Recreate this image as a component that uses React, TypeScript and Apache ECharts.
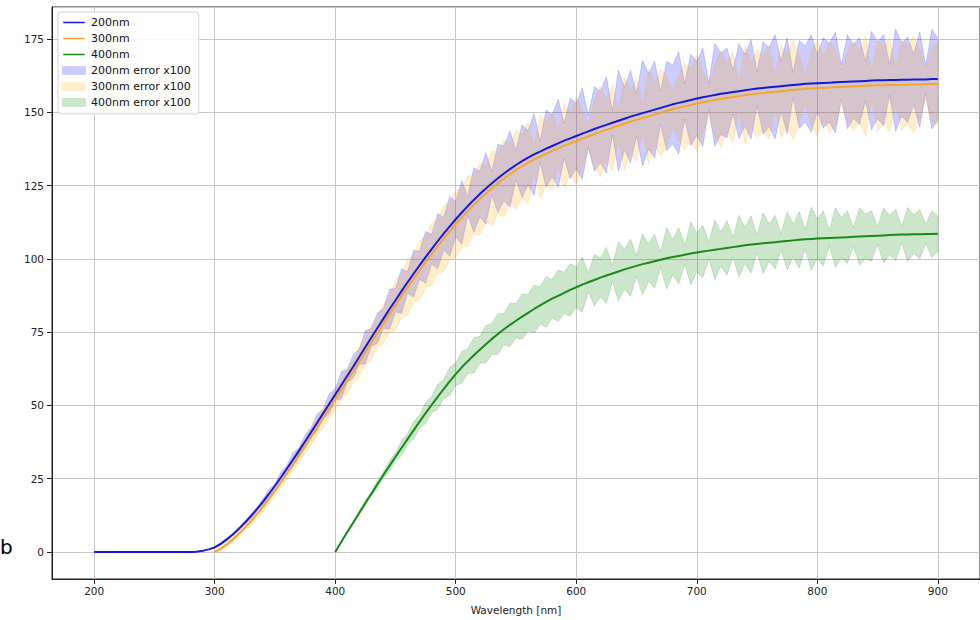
import React, { useEffect, useRef } from "react";
import * as echarts from "echarts";

// ---- sampling grid (nm) ----
const STEP = 5;
const start200 = 200;
const start300 = 300;
const start400 = 400;

// ---- mean curves (5 nm steps) ----
const curve200nm = [
  0, 0, 0, 0, 0, 0, 0, 0, 0, 0,
  0, 0, 0, 0, 0, 0, 0, 0.1, 0.4, 0.9,
  1.6, 2.8, 4.3, 6.0, 7.9, 10.0, 12.2, 14.6, 17.1, 19.8,
  22.6, 25.5, 28.5, 31.5, 34.6, 37.7, 40.9, 44.1, 47.3, 50.5,
  53.7, 56.9, 60.1, 63.3, 66.6, 69.9, 73.2, 76.4, 79.6, 82.8,
  85.9, 89.0, 92.0, 94.9, 97.8, 100.6, 103.3, 106.0, 108.6, 111.1,
  113.5, 115.8, 118.0, 120.1, 122.1, 124.0, 125.8, 127.5, 129.1, 130.6,
  132.0, 133.3, 134.5, 135.6, 136.6, 137.6, 138.5, 139.4, 140.3, 141.1,
  141.9, 142.7, 143.5, 144.3, 145.0, 145.7, 146.4, 147.1, 147.8, 148.5,
  149.1, 149.7, 150.3, 150.9, 151.5, 152.1, 152.7, 153.2, 153.7, 154.2,
  154.7, 155.1, 155.5, 155.9, 156.3, 156.6, 156.9, 157.2, 157.5, 157.8,
  158.1, 158.3, 158.5, 158.7, 158.9, 159.1, 159.3, 159.5, 159.7, 159.8,
  159.9, 160.0, 160.1, 160.2, 160.3, 160.4, 160.5, 160.6, 160.7, 160.8,
  160.9, 160.9, 161.0, 161.0, 161.1, 161.1, 161.2, 161.2, 161.2, 161.3,
  161.3,
];

const curve300nm = [
  0.0, 1.1, 2.6, 4.3, 6.2, 8.3, 10.5, 12.9, 15.4, 18.1,
  20.9, 23.8, 26.8, 29.8, 32.9, 36.0, 39.2, 42.4, 45.6, 48.8,
  52.0, 55.2, 58.4, 61.6, 64.9, 68.2, 71.5, 74.7, 77.9, 81.1,
  84.2, 87.3, 90.3, 93.2, 96.1, 98.9, 101.6, 104.3, 106.9, 109.4,
  111.8, 114.1, 116.3, 118.4, 120.4, 122.3, 124.1, 125.8, 127.4, 128.9,
  130.3, 131.6, 132.8, 133.9, 134.9, 135.9, 136.8, 137.7, 138.6, 139.4,
  140.2, 141.0, 141.8, 142.6, 143.3, 144.0, 144.7, 145.4, 146.1, 146.8,
  147.4, 148.0, 148.6, 149.2, 149.8, 150.4, 151.0, 151.5, 152.0, 152.5,
  153.0, 153.4, 153.8, 154.2, 154.6, 154.9, 155.2, 155.5, 155.8, 156.1,
  156.4, 156.6, 156.8, 157.0, 157.2, 157.4, 157.6, 157.8, 158.0, 158.1,
  158.2, 158.3, 158.4, 158.5, 158.6, 158.7, 158.8, 158.9, 159.0, 159.1,
  159.2, 159.2, 159.3, 159.3, 159.4, 159.4, 159.5, 159.5, 159.6, 159.6,
  159.7,
];

const curve400nm = [
  0, 3.4, 6.8, 10.1, 13.4, 16.7, 19.9, 23.1, 26.3, 29.4,
  32.5, 35.5, 38.5, 41.5, 44.5, 47.4, 50.2, 52.9, 55.6, 58.2,
  60.7, 63.0, 65.1, 67.1, 69.0, 70.9, 72.7, 74.4, 76.0, 77.5,
  78.9, 80.3, 81.6, 82.9, 84.1, 85.3, 86.4, 87.4, 88.4, 89.4,
  90.3, 91.2, 92.0, 92.8, 93.6, 94.3, 95.0, 95.7, 96.4, 97.0,
  97.6, 98.2, 98.7, 99.2, 99.7, 100.2, 100.6, 101.0, 101.4, 101.8,
  102.2, 102.5, 102.8, 103.1, 103.4, 103.7, 104.0, 104.3, 104.6, 104.9,
  105.1, 105.3, 105.5, 105.7, 105.9, 106.1, 106.3, 106.5, 106.7, 106.8,
  106.9, 107.0, 107.1, 107.2, 107.3, 107.4, 107.5, 107.6, 107.7, 107.8,
  107.9, 108.0, 108.1, 108.2, 108.3, 108.3, 108.4, 108.4, 108.5, 108.5,
  108.6,
];

// ---- error x100 half-widths ----
const err200nm = [
  0, 0, 0, 0, 0, 0, 0, 0, 0, 0,
  0, 0, 0, 0, 0, 0, 0, 0, 0, 0,
  0.3, 0.4, 0.5, 0.4, 0.6, 0.5, 0.8, 0.6, 1.0, 1.6,
  0.8, 1.8, 1.2, 2.4, 1.0, 2.2, 1.6, 3.0, 1.4, 3.4,
  2.0, 4.6, 2.2, 4.0, 2.6, 5.6, 3.0, 5.2, 3.4, 6.8,
  4.0, 7.6, 3.6, 8.0, 4.8, 8.8, 5.0, 9.4, 5.6, 10.2,
  6.0, 10.8, 3.2, 11.0, 7.8, 12.2, 4.0, 11.6, 9.4, 13.0,
  5.0, 12.4, 9.2, 14.0, 3.6, 13.2, 10.6, 15.0, 6.0, 13.8,
  11.2, 15.6, 5.4, 14.4, 12.2, 16.4, 4.0, 17.2, 10.6, 15.8,
  7.2, 18.0, 12.8, 16.6, 5.6, 15.2, 13.4, 17.4, 6.0, 15.6,
  12.6, 16.8, 4.4, 17.6, 13.8, 15.4, 7.6, 16.2, 12.2, 17.0,
  5.8, 15.8, 13.4, 17.8, 8.6, 16.4, 4.2, 15.0, 13.0, 16.6,
  9.8, 15.4, 13.4, 17.2, 5.8, 16.0, 12.6, 14.8, 6.8, 16.8,
  13.0, 15.6, 5.2, 17.4, 12.4, 14.6, 8.6, 16.2, 4.8, 17.0,
  14.0,
];

const err300nm = [
  0.3, 0.6, 0.8, 1.0, 1.2, 1.0, 1.5, 1.3, 1.8, 1.6,
  1.8, 1.5, 2.2, 1.8, 2.6, 2.2, 2.8, 2.6, 3.4, 3.0,
  3.6, 3.2, 4.4, 3.8, 5.2, 4.6, 6.0, 5.2, 6.8, 6.0,
  8.6, 7.4, 9.4, 8.2, 10.0, 8.8, 10.6, 9.4, 11.2, 9.8,
  11.4, 10.2, 12.0, 10.0, 12.4, 9.6, 12.8, 10.4, 13.2, 9.8,
  13.6, 10.8, 14.0, 4.4, 14.2, 11.0, 13.4, 5.8, 14.6, 10.6,
  15.0, 9.6, 4.2, 11.4, 15.4, 10.2, 14.6, 5.0, 15.8, 10.8,
  14.4, 4.6, 16.2, 10.4, 15.0, 12.2, 6.0, 11.0, 14.8, 12.6,
  16.4, 10.8, 5.2, 12.0, 16.6, 11.4, 15.6, 4.8, 16.8, 11.2,
  15.0, 13.0, 16.2, 5.6, 15.8, 12.4, 17.0, 11.8, 4.6, 12.6,
  16.4, 11.0, 15.6, 13.2, 5.8, 11.6, 15.2, 12.2, 17.2, 4.8,
  15.8, 12.8, 16.0, 6.4, 15.4, 13.4, 16.6, 11.8, 5.2, 12.6,
  14.2,
];

const err400nm = [
  0.1, 0.2, 0.3, 0.4, 0.5, 0.9, 0.7, 1.4, 1.0, 1.9,
  1.4, 2.6, 1.8, 3.0, 2.2, 3.6, 2.8, 4.2, 3.2, 4.8,
  3.8, 5.4, 4.2, 6.0, 4.6, 6.4, 5.2, 7.0, 5.4, 7.4,
  5.8, 7.8, 6.2, 8.2, 6.4, 8.6, 6.6, 8.8, 7.0, 9.0,
  6.8, 9.4, 3.2, 8.8, 6.6, 9.6, 2.8, 10.2, 6.8, 9.8,
  3.6, 10.4, 6.4, 9.2, 2.6, 10.6, 6.0, 9.6, 3.2, 10.8,
  6.6, 9.0, 2.8, 10.2, 5.8, 9.4, 3.4, 10.6, 6.2, 9.8,
  3.0, 10.4, 6.4, 9.2, 2.8, 10.0, 5.6, 9.6, 3.4, 10.8,
  6.8, 9.4, 2.6, 10.2, 7.0, 9.0, 3.2, 9.8, 7.6, 8.6,
  3.0, 9.4, 6.8, 8.8, 2.8, 9.2, 6.6, 8.4, 3.2, 8.0,
  6.0,
];

// ---- ticks ----
const xTickLabels = [200, 300, 400, 500, 600, 700, 800, 900];
const yTickLabels = [0, 25, 50, 75, 100, 125, 150, 175];

// ---- styles ----
const LINE_BLUE = "#1818d8";
const LINE_ORANGE = "#f4a62a";
const LINE_GREEN = "#178a17";
const FILL_BLUE = "rgba(0,0,255,0.2)";
const FILL_ORANGE = "rgba(255,165,0,0.2)";
const FILL_GREEN = "rgba(0,128,0,0.2)";
const FONT = "DejaVu Sans";
const LEGEND_LINE_ICON = "path://M0,0L0.01,0ZM0,4.1H24V5.9H0ZM0,10L0.01,10Z";

function lineSeries(name: string, start: number, values: number[], color: string) {
  return {
    type: "line",
    name,
    data: values.map((v, i) => [start + STEP * i, v]),
    symbol: "none",
    showSymbol: false,
    smooth: false,
    z: 5,
    itemStyle: { color },
    lineStyle: { color, width: 2 },
    emphasis: { disabled: true },
  };
}

// fill_between(curve - err, curve + err) as one polygon in data coordinates
function bandSeries(name: string, start: number, center: number[], err: number[], fill: string) {
  const n = Math.min(center.length, err.length);
  return {
    type: "custom",
    name,
    data: [[start, center[0]]],
    z: 2,
    silent: true,
    clip: true,
    itemStyle: { color: fill },
    renderItem: (_params: any, api: any) => {
      const pts: number[][] = [];
      for (let i = 0; i < n; i++) {
        pts.push(api.coord([start + STEP * i, center[i] + err[i]]));
      }
      for (let i = n - 1; i >= 0; i--) {
        pts.push(api.coord([start + STEP * i, center[i] - err[i]]));
      }
      return {
        type: "polygon",
        shape: { points: pts },
        style: { fill, stroke: fill, lineWidth: 0.8 },
      };
    },
  };
}

const axisTextColor = "#222";

export default function App() {
  const ref = useRef<HTMLDivElement>(null);
  useEffect(() => {
    if (!ref.current) return;
    const chart = echarts.init(ref.current, null, { renderer: "svg" });
    const option: any = {
      animation: false,
      backgroundColor: "#ffffff",
      grid: {
        left: 52,
        right: 0,
        top: 7,
        bottom: 39,
        show: true,
        borderColor: "#222",
        borderWidth: 1,
        backgroundColor: "transparent",
        containLabel: false,
      },
      xAxis: {
        type: "value",
        min: 165,
        max: 935,
        minInterval: 100,
        maxInterval: 100,
        name: "Wavelength [nm]",
        nameLocation: "middle",
        nameGap: 25,
        nameTextStyle: { color: axisTextColor, fontFamily: FONT, fontSize: 10.5 },
        axisLine: { show: true, onZero: false, lineStyle: { color: "#222", width: 1 } },
        axisTick: { show: true, length: 5, lineStyle: { color: "#222" } },
        axisLabel: {
          showMinLabel: false,
          showMaxLabel: false,
          color: axisTextColor,
          fontFamily: FONT,
          fontSize: 10.5,
          margin: 6,
          formatter: (v: number) => (xTickLabels.includes(v) ? String(v) : ""),
        },
        splitLine: { show: true, lineStyle: { color: "#c6c6c6", width: 1 } },
      },
      yAxis: {
        type: "value",
        min: -9.2,
        max: 185.9,
        minInterval: 25,
        maxInterval: 25,
        axisLine: { show: true, onZero: false, lineStyle: { color: "#222", width: 1 } },
        axisTick: { show: true, length: 5, lineStyle: { color: "#222" } },
        axisLabel: {
          showMinLabel: false,
          showMaxLabel: false,
          color: axisTextColor,
          fontFamily: FONT,
          fontSize: 10.5,
          margin: 8,
          formatter: (v: number) => (yTickLabels.includes(v) ? String(v) : ""),
        },
        splitLine: { show: true, lineStyle: { color: "#c6c6c6", width: 1 } },
      },
      legend: {
        orient: "vertical",
        left: 58,
        top: 12,
        z: 20,
        selectedMode: false,
        padding: [5, 8, 6, 4],
        itemGap: 5,
        itemWidth: 24,
        itemHeight: 9,
        backgroundColor: "rgba(255,255,255,0.85)",
        borderColor: "#d4d4d4",
        borderWidth: 1,
        borderRadius: 3,
        textStyle: { color: "#111", fontFamily: FONT, fontSize: 11 },
        data: [
          { name: "200nm", icon: LEGEND_LINE_ICON, itemStyle: { color: LINE_BLUE, borderWidth: 0 } },
          { name: "300nm", icon: LEGEND_LINE_ICON, itemStyle: { color: LINE_ORANGE, borderWidth: 0 } },
          { name: "400nm", icon: LEGEND_LINE_ICON, itemStyle: { color: LINE_GREEN, borderWidth: 0 } },
          { name: "200nm error x100", icon: "rect", itemStyle: { color: FILL_BLUE, borderWidth: 0 } },
          { name: "300nm error x100", icon: "rect", itemStyle: { color: FILL_ORANGE, borderWidth: 0 } },
          { name: "400nm error x100", icon: "rect", itemStyle: { color: FILL_GREEN, borderWidth: 0 } },
        ],
      },
      graphic: [
        {
          type: "text",
          x: 0,
          y: 537,
          style: { text: "b", font: "20px 'DejaVu Sans'", fill: "#000" },
        },
      ],
      series: [
        bandSeries("200nm error x100", start200, curve200nm, err200nm, FILL_BLUE),
        bandSeries("300nm error x100", start300, curve300nm, err300nm, FILL_ORANGE),
        bandSeries("400nm error x100", start400, curve400nm, err400nm, FILL_GREEN),
        lineSeries("200nm", start200, curve200nm, LINE_BLUE),
        lineSeries("300nm", start300, curve300nm, LINE_ORANGE),
        lineSeries("400nm", start400, curve400nm, LINE_GREEN),
      ],
    };
    chart.setOption(option);
    return () => chart.dispose();
  }, []);
  return (
    <div
      ref={ref}
      style={{ position: "absolute", left: 0, top: 0, width: 980, height: 620 }}
    />
  );
}
